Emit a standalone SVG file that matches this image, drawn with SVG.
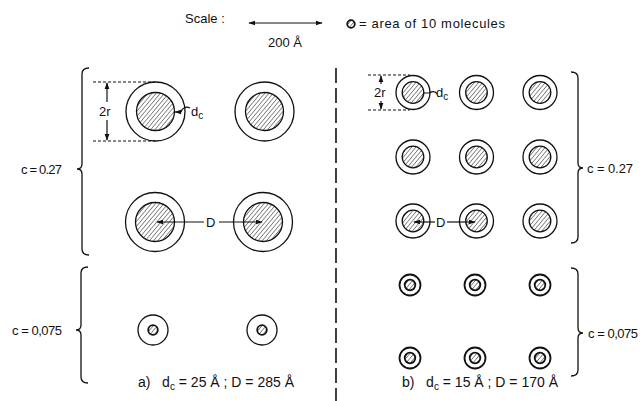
<svg xmlns="http://www.w3.org/2000/svg" width="640" height="401" viewBox="0 0 640 401">
<defs>
<pattern id="hatch" patternUnits="userSpaceOnUse" width="3.2" height="3.2" patternTransform="rotate(40)">
<line x1="0" y1="0" x2="0" y2="3.2" stroke="#222" stroke-width="1"/>
</pattern>
<marker id="ah" viewBox="0 0 10 10" refX="9" refY="5" markerWidth="7" markerHeight="7" orient="auto-start-reverse" markerUnits="userSpaceOnUse">
<path d="M0,1.5 L10,5 L0,8.5 Z" fill="#111"/>
</marker>
</defs>
<style>
text{font-family:"Liberation Sans","DejaVu Sans",sans-serif;font-size:13px;fill:#111}
.cap{font-size:14px;white-space:pre}
.o{fill:#fff;stroke:#111;stroke-width:1.3}
.i{fill:url(#hatch);stroke:#111;stroke-width:1.3}
.is{fill:url(#hatch);stroke:#111;stroke-width:1.8}
.os{fill:#fff;stroke:#111;stroke-width:1.8}
.ln{fill:none;stroke:#111;stroke-width:1.2}
.dot{fill:none;stroke:#111;stroke-width:1.1;stroke-dasharray:3 2}
.br{fill:none;stroke:#111;stroke-width:1.3}
.sub{font-size:10px}
</style>

<g id="legend">
<text x="185" y="23">Scale :</text>
<line class="ln" x1="249" y1="23" x2="322" y2="23" marker-start="url(#ah)" marker-end="url(#ah)"/>
<text x="268" y="47">200 Å</text>
<circle class="is" cx="351" cy="24" r="3.8"/>
<text x="359" y="28" textLength="146" lengthAdjust="spacing">= area of 10 molecules</text>
</g>

<line id="divider" x1="336" y1="68" x2="336" y2="401" stroke="#111" stroke-width="1.6" stroke-dasharray="15 5"/>

<g id="panel-a-high">
<g id="a1"><circle class="o" cx="155.5" cy="111.5" r="29.5"/><circle class="i" cx="155.5" cy="111.5" r="19"/></g>
<g id="a2"><circle class="o" cx="264.5" cy="111.5" r="29.5"/><circle class="i" cx="264.5" cy="111.5" r="19"/></g>
<g id="a3"><circle class="o" cx="155" cy="222" r="29.5"/><circle class="i" cx="155" cy="222" r="19.5"/></g>
<g id="a4"><circle class="o" cx="263" cy="222" r="29.5"/><circle class="i" cx="263" cy="222" r="19.5"/></g>
</g>
<g id="panel-a-low">
<g id="a5"><circle class="o" cx="153" cy="330" r="15"/><circle class="is" cx="153" cy="330" r="4.8"/></g>
<g id="a6"><circle class="o" cx="262" cy="330" r="15"/><circle class="is" cx="262" cy="330" r="4.8"/></g>
</g>

<g id="panel-b-high">
<g id="b1"><circle class="o" cx="413" cy="92.5" r="17"/><circle class="i" cx="413" cy="92.5" r="10.8"/></g>
<g id="b2"><circle class="o" cx="476.5" cy="92.5" r="17"/><circle class="i" cx="476.5" cy="92.5" r="10.8"/></g>
<g id="b3"><circle class="o" cx="540" cy="92.5" r="17"/><circle class="i" cx="540" cy="92.5" r="10.8"/></g>
<g id="b4"><circle class="o" cx="413" cy="157" r="17"/><circle class="i" cx="413" cy="157" r="10.8"/></g>
<g id="b5"><circle class="o" cx="476.5" cy="157" r="17"/><circle class="i" cx="476.5" cy="157" r="10.8"/></g>
<g id="b6"><circle class="o" cx="540" cy="157" r="17"/><circle class="i" cx="540" cy="157" r="10.8"/></g>
<g id="b7"><circle class="o" cx="413" cy="221" r="17"/><circle class="i" cx="413" cy="221" r="10.8"/></g>
<g id="b8"><circle class="o" cx="476.5" cy="221" r="17"/><circle class="i" cx="476.5" cy="221" r="10.8"/></g>
<g id="b9"><circle class="o" cx="540" cy="221" r="17"/><circle class="i" cx="540" cy="221" r="10.8"/></g>
</g>
<g id="panel-b-low">
<g id="b10"><circle class="os" cx="410" cy="285" r="10.5"/><circle class="is" cx="410" cy="285" r="5.3"/></g>
<g id="b11"><circle class="os" cx="475" cy="285" r="10.5"/><circle class="is" cx="475" cy="285" r="5.3"/></g>
<g id="b12"><circle class="os" cx="540" cy="285" r="10.5"/><circle class="is" cx="540" cy="285" r="5.3"/></g>
<g id="b13"><circle class="os" cx="410" cy="358" r="10.5"/><circle class="is" cx="410" cy="358" r="5.3"/></g>
<g id="b14"><circle class="os" cx="475" cy="358" r="10.5"/><circle class="is" cx="475" cy="358" r="5.3"/></g>
<g id="b15"><circle class="os" cx="540" cy="358" r="10.5"/><circle class="is" cx="540" cy="358" r="5.3"/></g>
</g>

<g id="connectors">
<line class="dot" x1="93" y1="82" x2="155" y2="82"/>
<line class="dot" x1="93" y1="141" x2="155" y2="141"/>
<line class="ln" x1="107" y1="102" x2="107" y2="83" marker-end="url(#ah)"/>
<line class="ln" x1="107" y1="120" x2="107" y2="140" marker-end="url(#ah)"/>
<path class="ln" d="M190,108 C186,106 182,108 181,112 L175,112" marker-end="url(#ah)"/>
<line class="ln" x1="204" y1="222" x2="157" y2="222" marker-end="url(#ah)"/>
<line class="ln" x1="219" y1="222" x2="262" y2="222" marker-end="url(#ah)"/>
<line class="dot" x1="368" y1="75" x2="410" y2="75"/>
<line class="dot" x1="368" y1="110" x2="410" y2="110"/>
<line class="ln" x1="381" y1="84" x2="381" y2="76" marker-end="url(#ah)"/>
<line class="ln" x1="381" y1="101" x2="381" y2="109" marker-end="url(#ah)"/>
<path class="ln" d="M437,94 C435,90 431,92 429,93 L424,93"/>
<line class="ln" x1="435" y1="222" x2="414" y2="222" marker-end="url(#ah)"/>
<line class="ln" x1="447" y1="222" x2="475" y2="222" marker-end="url(#ah)"/>
<path class="br" d="M89,68 Q82,68 82,74 L82,164 Q82,169 77,169 Q82,169 82,174 L82,249 Q82,255 89,255"/>
<path class="br" d="M88,267 Q81,267 81,273 L81,325 Q81,330 76,330 Q81,330 81,335 L81,377 Q81,383 88,383"/>
<path class="br" d="M571,72 Q578,72 578,78 L578,163 Q578,168 583,168 Q578,168 578,173 L578,237 Q578,243 571,243"/>
<path class="br" d="M571,268 Q578,268 578,274 L578,328 Q578,333 583,333 Q578,333 578,338 L578,370 Q578,376 571,376"/>
</g>

<g id="labels">
<text x="99" y="116">2r</text>
<text x="191" y="116">d<tspan class="sub" dy="3">c</tspan></text>
<text x="206" y="227">D</text>
<text x="374" y="97">2r</text>
<text x="436" y="97">d<tspan class="sub" dy="3">c</tspan></text>
<text x="436" y="227">D</text>
<text x="21" y="174" textLength="41" lengthAdjust="spacing">c = 0.27</text>
<text x="12" y="335" textLength="50" lengthAdjust="spacing">c = 0,075</text>
<text x="587" y="173" textLength="46" lengthAdjust="spacing">c = 0.27</text>
<text x="588" y="338" textLength="50" lengthAdjust="spacing">c = 0,075</text>
<text id="caption-a" class="cap" x="138" y="387">a)   d<tspan class="sub" dy="3">c</tspan><tspan dy="-3"> = 25 Å ; D = 285 Å</tspan></text>
<text id="caption-b" class="cap" x="402" y="387">b)   d<tspan class="sub" dy="3">c</tspan><tspan dy="-3"> = 15 Å ; D = 170 Å</tspan></text>
</g>
</svg>
